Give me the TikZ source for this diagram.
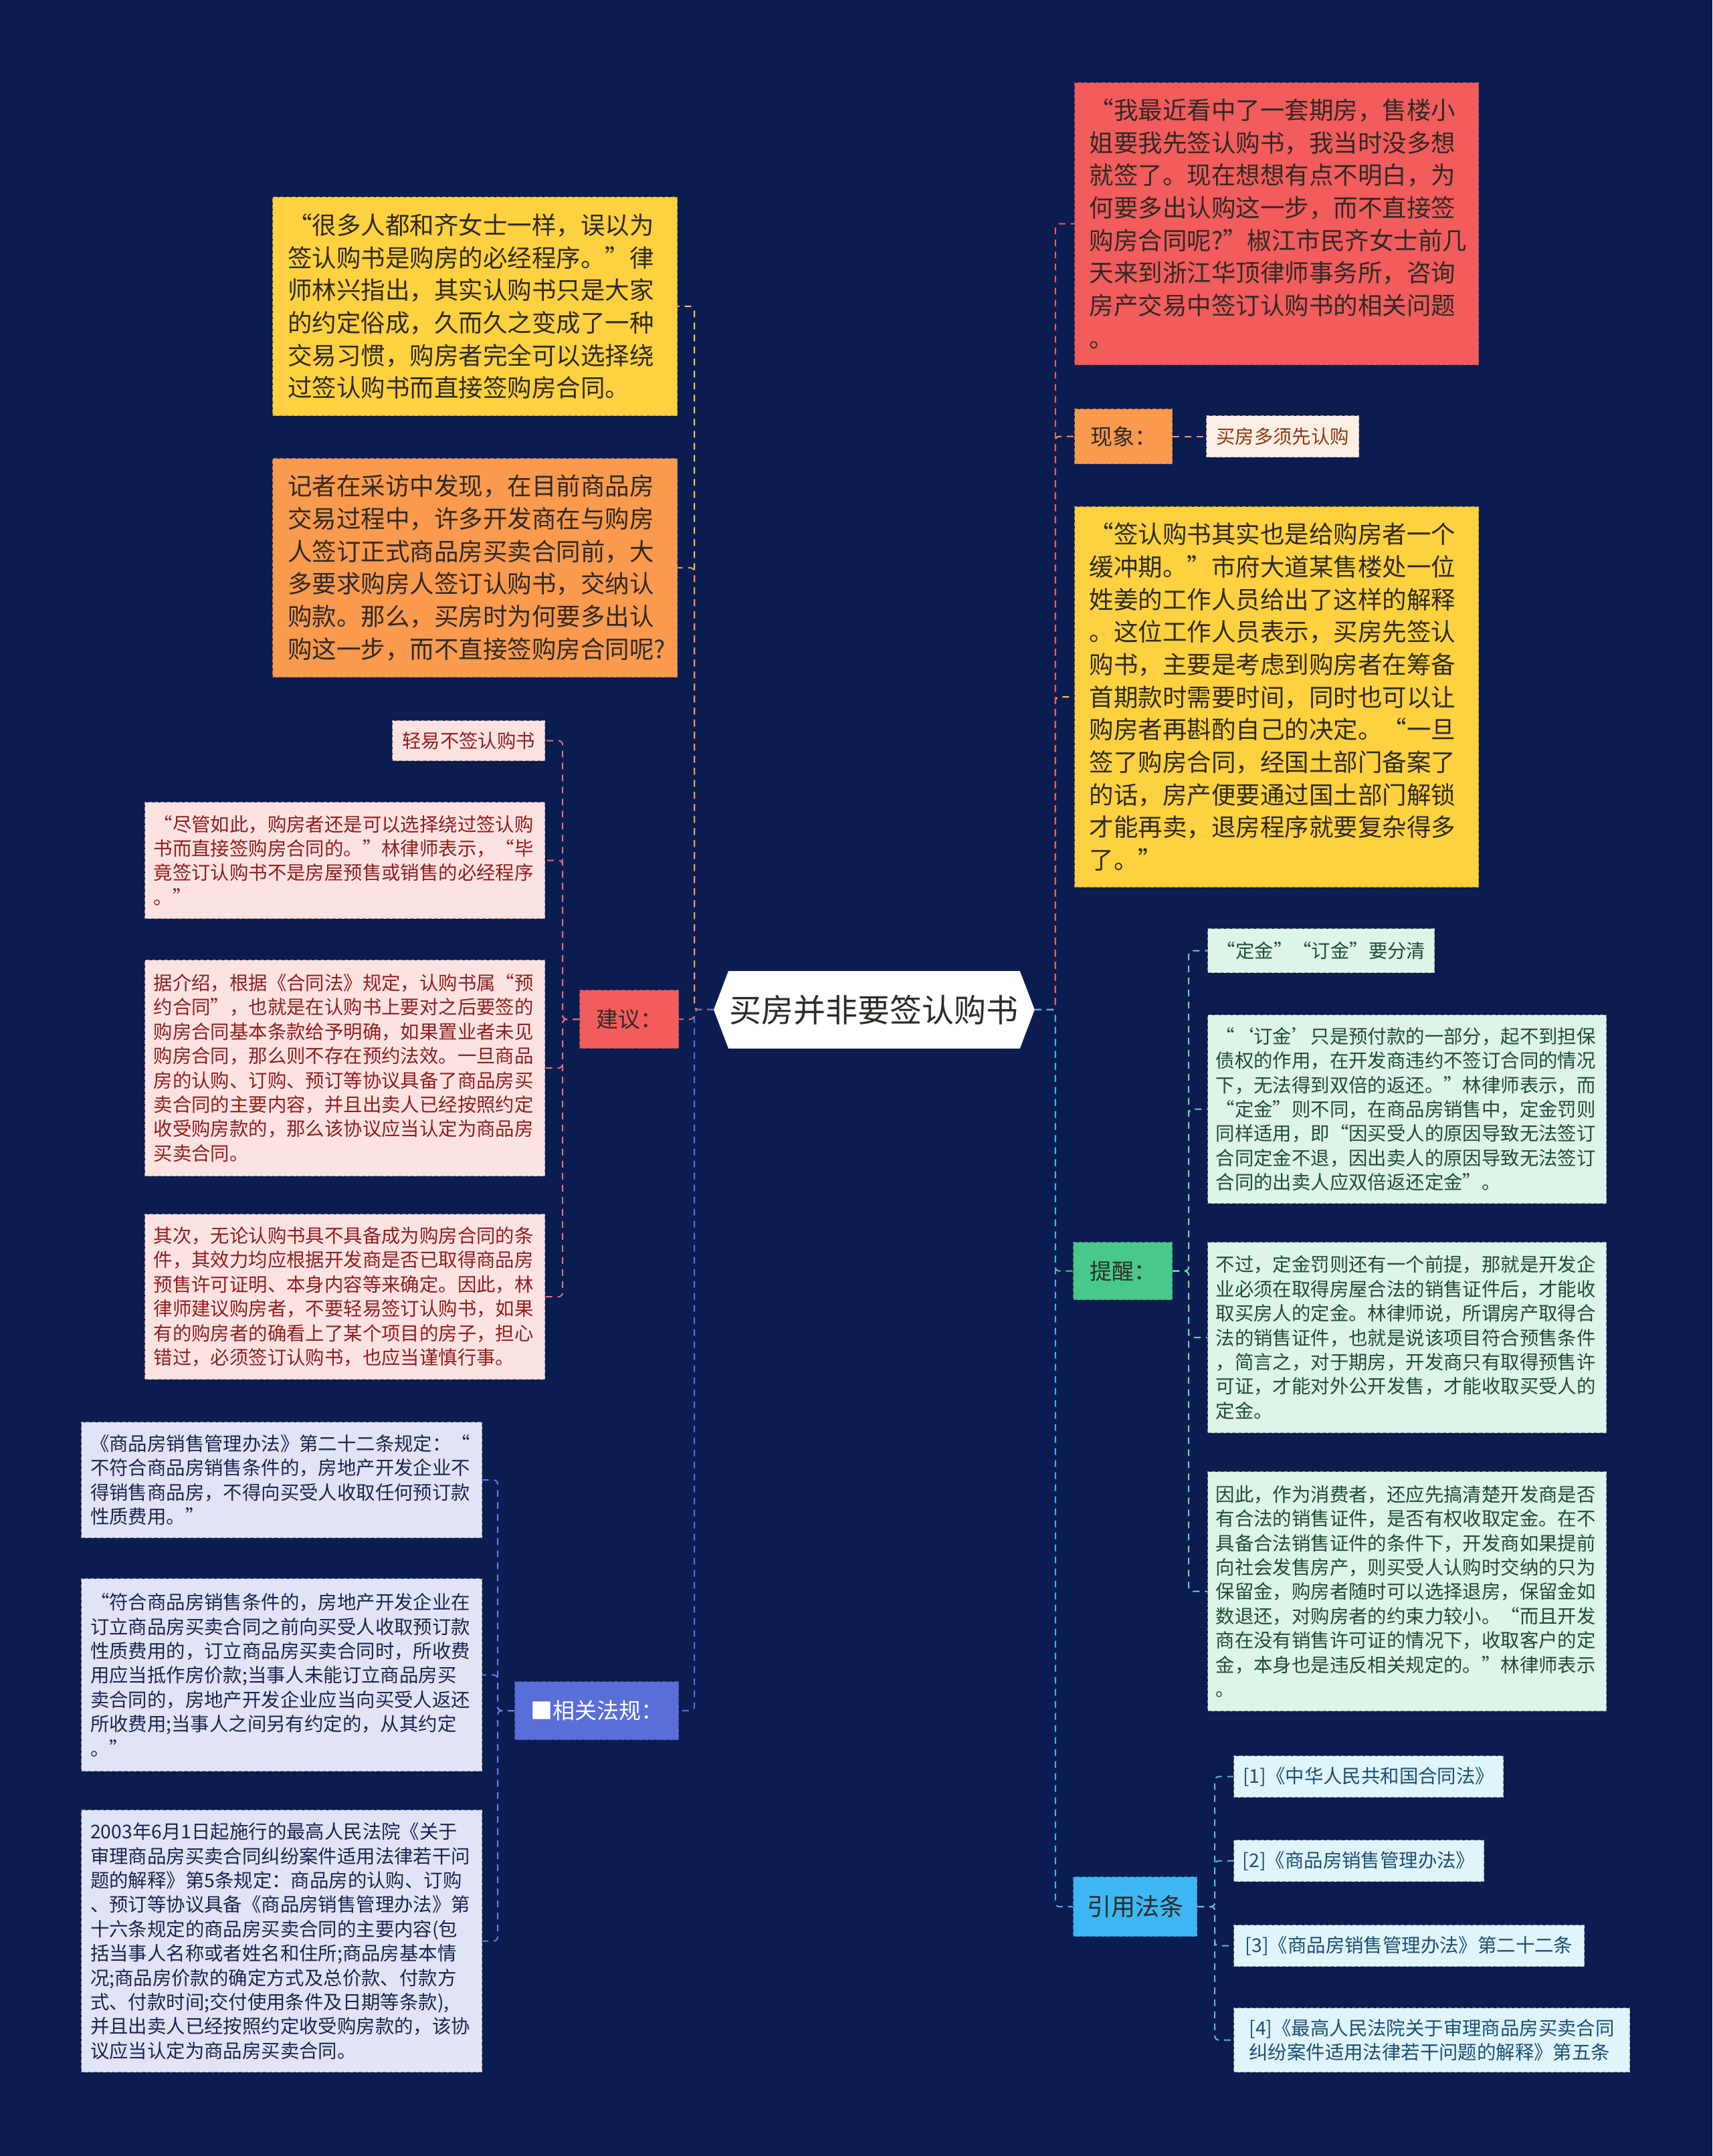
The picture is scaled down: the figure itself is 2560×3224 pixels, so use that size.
\documentclass[tikz,border=0pt]{standalone}
\usepackage{fontspec}
\setmainfont{Noto Sans CJK SC}
\definecolor{bgc}{HTML}{0B1C51}
\definecolor{cRed}{HTML}{F25C5C}
\definecolor{cOrange}{HTML}{F99A4F}
\definecolor{cYellow}{HTML}{FDD13F}
\definecolor{cCream}{HTML}{FDEFE4}
\definecolor{tCream}{HTML}{8A3B12}
\definecolor{cPink}{HTML}{FDE2E2}
\definecolor{tPink}{HTML}{8F1F1F}
\definecolor{lPink}{HTML}{E0707A}
\definecolor{cGreen}{HTML}{48C98B}
\definecolor{cLGreen}{HTML}{DDF4E8}
\definecolor{tGreen}{HTML}{1F4D33}
\definecolor{lGreen}{HTML}{6FD4AE}
\definecolor{cBlue}{HTML}{3DB7F4}
\definecolor{cLBlue}{HTML}{E0F4FB}
\definecolor{tBlue}{HTML}{1D4F72}
\definecolor{lBlue}{HTML}{5BB8E8}
\definecolor{cPurple}{HTML}{5A6ED8}
\definecolor{cLPurple}{HTML}{E1E4F6}
\definecolor{tPurple}{HTML}{1E2350}
\definecolor{lPurple}{HTML}{6B7EE0}
\definecolor{tDark}{HTML}{2E2A26}
\newcommand\txbig{\fontsize{18.25pt}{24.35pt}\selectfont}
\newcommand\txsmall{\fontsize{14.2pt}{18.2pt}\selectfont}
\newcommand\txlab{\fontsize{16.5pt}{20pt}\selectfont}
\tikzset{
  boxbase/.style={rectangle, anchor=north west, inner sep=0pt, align=left,
    dash pattern=on 3pt off 1.5pt, line width=0.6pt},
  bigbox/.style={boxbase, font=\txbig, text=tDark, text width=280pt},
  smallbox/.style={boxbase, font=\txsmall, text width=286pt},
  onebox/.style={boxbase, font=\txsmall, align=center},
  labbox/.style={boxbase, font=\txlab, align=center, text=tDark},
  conn/.style={dash pattern=on 5pt off 4pt, line width=1pt, rounded corners=3pt}
}
\begin{document}
\begin{tikzpicture}[x=0.5pt,y=-0.5pt]
\fill[bgc] (0,0) rectangle (2560,3224);
\useasboundingbox (0,0) rectangle (2560,3224);

% center
\node[rectangle, inner sep=0pt, minimum width=239.5pt, minimum height=57.5pt, anchor=north west,
  font=\fontsize{24pt}{28pt}\selectfont, text=tDark] (root) at (1067,1452) {};
\fill[white] ([xshift=11pt]root.north west) -- ([xshift=-11pt]root.north east) -- (root.east)
  -- ([xshift=-11pt]root.south east) -- ([xshift=11pt]root.south west) -- (root.west) -- cycle;
\node[font=\fontsize{24pt}{28pt}\selectfont, text=tDark] (roottext) at (root.center) {买房并非要签认购书};

% right branches
\node[bigbox, fill=cRed, draw=cRed!75!black, minimum width=302pt, minimum height=211pt] (R1) at (1606,123)
{“我最近看中了一套期房，售楼小\\姐要我先签认购书，我当时没多想\\就签了。现在想想有点不明白，为\\何要多出认购这一步，而不直接签\\购房合同呢?”椒江市民齐女士前几\\天来到浙江华顶律师事务所，咨询\\房产交易中签订认购书的相关问题\\。};

\node[labbox, fill=cOrange, draw=cOrange!75!black, minimum width=73pt, minimum height=41pt] (XX) at (1606,611) {现象：};
\node[onebox, fill=cCream, draw=cCream!70!black, text=tCream, minimum width=114pt, minimum height=31pt] (XXc) at (1803,621) {买房多须先认购};

\node[bigbox, fill=cYellow, draw=cYellow!70!black, minimum width=302pt, minimum height=284.5pt] (RY) at (1606,757)
{“签认购书其实也是给购房者一个\\缓冲期。”市府大道某售楼处一位\\姓姜的工作人员给出了这样的解释\\。这位工作人员表示，买房先签认\\购书，主要是考虑到购房者在筹备\\首期款时需要时间，同时也可以让\\购房者再斟酌自己的决定。“一旦\\签了购房合同，经国土部门备案了\\的话，房产便要通过国土部门解锁\\才能再卖，退房程序就要复杂得多\\了。”};

\node[labbox, fill=cGreen, draw=cGreen!70!black, minimum width=74pt, minimum height=43pt] (TX) at (1604,1857) {提醒：};
\node[onebox, fill=cLGreen, draw=cLGreen!60!black, text=tGreen, minimum width=169.5pt, minimum height=33pt] (T1) at (1805,1388) {“定金”“订金”要分清};
\node[smallbox, fill=cLGreen, draw=cLGreen!60!black, text=tGreen, minimum width=298pt, minimum height=141pt] (T2) at (1805,1517)
{“‘订金’只是预付款的一部分，起不到担保\\债权的作用，在开发商违约不签订合同的情况\\下，无法得到双倍的返还。”林律师表示，而\\“定金”则不同，在商品房销售中，定金罚则\\同样适用，即“因买受人的原因导致无法签订\\合同定金不退，因出卖人的原因导致无法签订\\合同的出卖人应双倍返还定金”。};
\node[smallbox, fill=cLGreen, draw=cLGreen!60!black, text=tGreen, minimum width=298pt, minimum height=142.5pt] (T3) at (1805,1857)
{不过，定金罚则还有一个前提，那就是开发企\\业必须在取得房屋合法的销售证件后，才能收\\取买房人的定金。林律师说，所谓房产取得合\\法的销售证件，也就是说该项目符合预售条件\\，简言之，对于期房，开发商只有取得预售许\\可证，才能对外公开发售，才能收取买受人的\\定金。};
\node[smallbox, fill=cLGreen, draw=cLGreen!60!black, text=tGreen, minimum width=298pt, minimum height=179pt] (T4) at (1805,2200)
{因此，作为消费者，还应先搞清楚开发商是否\\有合法的销售证件，是否有权收取定金。在不\\具备合法销售证件的条件下，开发商如果提前\\向社会发售房产，则买受人认购时交纳的只为\\保留金，购房者随时可以选择退房，保留金如\\数退还，对购房者的约束力较小。“而且开发\\商在没有销售许可证的情况下，收取客户的定\\金，本身也是违反相关规定的。”林律师表示\\。};

\node[labbox, font=\fontsize{18pt}{22pt}\selectfont, fill=cBlue, draw=cBlue!70!black, minimum width=92.5pt, minimum height=44.5pt] (YY) at (1604,2806) {引用法条};
\node[onebox, fill=cLBlue, draw=cLBlue!60!black, text=tBlue, minimum width=201.5pt, minimum height=31pt] (Y1) at (1844,2625) {[1]《中华人民共和国合同法》};
\node[onebox, fill=cLBlue, draw=cLBlue!60!black, text=tBlue, minimum width=187pt, minimum height=31pt] (Y2) at (1844,2751) {[2]《商品房销售管理办法》};
\node[onebox, fill=cLBlue, draw=cLBlue!60!black, text=tBlue, minimum width=262pt, minimum height=31pt] (Y3) at (1844,2878) {[3]《商品房销售管理办法》第二十二条};
\node[onebox, align=left, fill=cLBlue, draw=cLBlue!60!black, text=tBlue, minimum width=296pt, minimum height=48pt] (Y4) at (1844,3002) {[4]《最高人民法院关于审理商品房买卖合同\\纠纷案件适用法律若干问题的解释》第五条};

% left branches
\node[bigbox, fill=cYellow, draw=cYellow!70!black, minimum width=302.5pt, minimum height=163.5pt] (LY) at (407,294)
{“很多人都和齐女士一样，误以为\\签认购书是购房的必经程序。”律\\师林兴指出，其实认购书只是大家\\的约定俗成，久而久之变成了一种\\交易习惯，购房者完全可以选择绕\\过签认购书而直接签购房合同。};
\node[bigbox, fill=cOrange, draw=cOrange!75!black, minimum width=302.5pt, minimum height=163.5pt] (LO) at (407,685)
{记者在采访中发现，在目前商品房\\交易过程中，许多开发商在与购房\\人签订正式商品房买卖合同前，大\\多要求购房人签订认购书，交纳认\\购款。那么，买房时为何要多出认\\购这一步，而不直接签购房合同呢?};

\node[labbox, fill=cRed, draw=cRed!75!black, minimum width=74pt, minimum height=43.5pt] (JY) at (866,1480) {建议：};
\node[onebox, fill=cPink, draw=cPink!65!black, text=tPink, minimum width=114pt, minimum height=30pt] (J1) at (586,1077) {轻易不签认购书};
\node[smallbox, fill=cPink, draw=cPink!65!black, text=tPink, minimum width=299pt, minimum height=87pt] (J2) at (216,1199)
{“尽管如此，购房者还是可以选择绕过签认购\\书而直接签购房合同的。”林律师表示，“毕\\竟签订认购书不是房屋预售或销售的必经程序\\。”};
\node[smallbox, fill=cPink, draw=cPink!65!black, text=tPink, minimum width=299pt, minimum height=161.5pt] (J3) at (216,1435)
{据介绍，根据《合同法》规定，认购书属“预\\约合同”，也就是在认购书上要对之后要签的\\购房合同基本条款给予明确，如果置业者未见\\购房合同，那么则不存在预约法效。一旦商品\\房的认购、订购、预订等协议具备了商品房买\\卖合同的主要内容，并且出卖人已经按照约定\\收受购房款的，那么该协议应当认定为商品房\\买卖合同。};
\node[smallbox, fill=cPink, draw=cPink!65!black, text=tPink, minimum width=299pt, minimum height=123.5pt] (J4) at (216,1815)
{其次，无论认购书具不具备成为购房合同的条\\件，其效力均应根据开发商是否已取得商品房\\预售许可证明、本身内容等来确定。因此，林\\律师建议购房者，不要轻易签订认购书，如果\\有的购房者的确看上了某个项目的房子，担心\\错过，必须签订认购书，也应当谨慎行事。};

\node[labbox, fill=cPurple, draw=cPurple!70!black, text=white, minimum width=122.5pt, minimum height=43.5pt] (FG) at (769,2514) {■相关法规：};
\node[smallbox, fill=cLPurple, draw=cLPurple!60!black, text=tPurple, minimum width=299.5pt, minimum height=86.5pt] (F1) at (121,2126)
{《商品房销售管理办法》第二十二条规定：“\\不符合商品房销售条件的，房地产开发企业不\\得销售商品房，不得向买受人收取任何预订款\\性质费用。”};
\node[smallbox, fill=cLPurple, draw=cLPurple!60!black, text=tPurple, minimum width=299.5pt, minimum height=144pt] (F2) at (121,2360)
{“符合商品房销售条件的，房地产开发企业在\\订立商品房买卖合同之前向买受人收取预订款\\性质费用的，订立商品房买卖合同时，所收费\\用应当抵作房价款;当事人未能订立商品房买\\卖合同的，房地产开发企业应当向买受人返还\\所收费用;当事人之间另有约定的，从其约定\\。”};
\node[smallbox, fill=cLPurple, draw=cLPurple!60!black, text=tPurple, minimum width=299.5pt, minimum height=196pt] (F3) at (121,2706)
{2003年6月1日起施行的最高人民法院《关于\\审理商品房买卖合同纠纷案件适用法律若干问\\题的解释》第5条规定：商品房的认购、订购\\、预订等协议具备《商品房销售管理办法》第\\十六条规定的商品房买卖合同的主要内容(包\\括当事人名称或者姓名和住所;商品房基本情\\况;商品房价款的确定方式及总价款、付款方\\式、付款时间;交付使用条件及日期等条款),\\并且出卖人已经按照约定收受购房款的，该协\\议应当认定为商品房买卖合同。};

% connectors: right main
\draw[conn, cYellow] (root.east) -- ++(31,0) |- (RY.west);
\draw[conn, cOrange] (root.east) -- ++(31,0) |- (XX.west);
\draw[conn, cRed] (root.east) -- ++(31,0) |- (R1.west);
\draw[conn, cGreen] (root.east) -- ++(31,0) |- (TX.west);
\draw[conn, cBlue] (root.east) -- ++(31,0) |- (YY.west);
% left main
\draw[conn, cYellow] (root.west) -- ++(-29,0) |- (LY.east);
\draw[conn, cOrange] (root.west) -- ++(-29,0) |- (LO.east);
\draw[conn, cRed] (root.west) -- ++(-29,0) |- (JY.east);
\draw[conn, cPurple] (root.west) -- ++(-29,0) |- (FG.east);
% sub
\draw[conn, cOrange] (XX.east) -- (XXc.west);
\foreach \c in {T1,T2,T3,T4}{\draw[conn, lGreen] (TX.east) -- ++(24,0) |- (\c.west);}
\foreach \c in {Y1,Y2,Y3,Y4}{\draw[conn, lBlue] (YY.east) -- ++(26,0) |- (\c.west);}
\foreach \c in {J1,J2,J3,J4}{\draw[conn, lPink] (JY.west) -- ++(-25,0) |- (\c.east);}
\foreach \c in {F1,F2,F3}{\draw[conn, lPurple] (FG.west) -- ++(-25,0) |- (\c.east);}
\end{tikzpicture}
\end{document}
